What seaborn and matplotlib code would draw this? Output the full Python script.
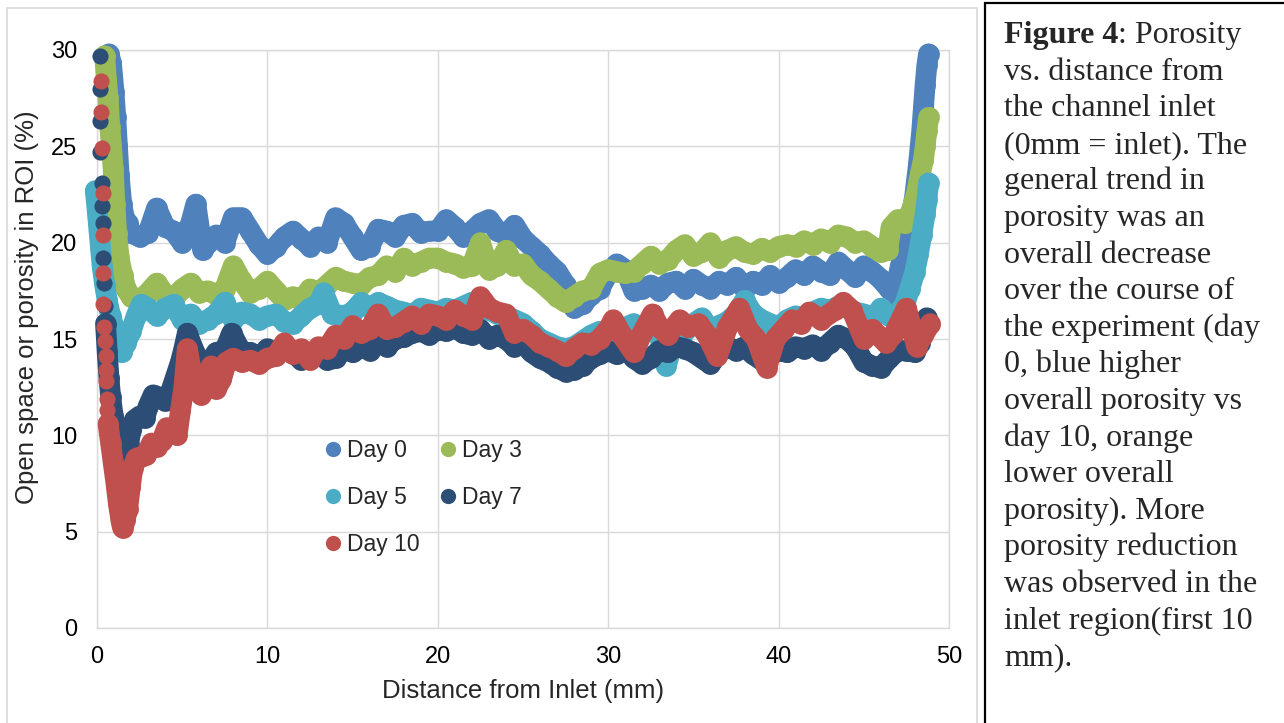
import matplotlib
matplotlib.use("Agg")
import matplotlib.pyplot as plt
from matplotlib.lines import Line2D
from matplotlib.patches import Rectangle
import seaborn as sns
import pandas as pd

# ---- data: (distance mm, porosity %) ----
day0_pts = [(0.7, 29.8), (0.85, 29.3), (1.0, 27.8), (1.1, 26.5), (1.2, 25.0), (1.3, 23.5), (1.45, 22.0),
            (1.6, 21.3), (1.8, 21.0), (2.0, 20.5), (2.5, 20.3), (3.0, 20.5), (3.5, 21.8), (4.0, 20.8),
            (4.5, 20.6), (5.0, 20.0), (5.5, 21.0), (5.8, 22.0), (6.2, 19.6), (6.5, 20.0), (7.0, 20.4),
            (7.5, 20.0), (8.0, 21.3), (8.5, 21.3), (9.0, 20.6), (9.5, 19.9), (10.0, 19.4), (10.5, 19.8),
            (11.0, 20.3), (11.5, 20.6), (12.0, 20.2), (12.5, 19.8), (13.0, 20.3), (13.5, 20.0), (14.0, 21.3),
            (14.5, 21.0), (15.0, 20.3), (15.5, 19.6), (16.0, 19.8), (16.5, 20.7), (17.0, 20.6), (17.5, 20.3),
            (18.0, 20.9), (18.5, 21.0), (19.0, 20.5), (19.5, 20.6), (20.0, 20.6), (20.5, 21.2), (21.0, 20.8),
            (21.5, 20.3), (22.0, 20.6), (22.5, 21.0), (23.0, 21.2), (23.5, 20.6), (24.0, 20.4), (24.5, 20.9),
            (25.0, 20.2), (25.5, 19.8), (26.0, 19.4), (26.5, 18.9), (27.0, 18.5), (27.5, 17.8), (28.0, 16.6),
            (28.5, 16.8), (29.0, 17.3), (29.5, 17.6), (30.0, 18.4), (30.5, 18.9), (31.0, 18.6), (31.5, 17.5),
            (32.0, 17.6), (32.5, 17.8), (33.0, 17.5), (33.5, 17.9), (34.0, 18.0), (34.5, 17.6), (35.0, 18.1),
            (35.5, 17.8), (36.0, 17.6), (36.5, 18.0), (37.0, 17.8), (37.5, 18.2), (38.0, 17.6), (38.5, 18.0),
            (39.0, 17.8), (39.5, 18.3), (40.0, 17.9), (40.5, 18.2), (41.0, 18.6), (41.5, 18.3), (42.0, 18.8),
            (42.5, 18.5), (43.0, 18.3), (43.5, 19.0), (44.0, 18.6), (44.5, 18.2), (45.0, 18.8), (45.5, 18.5),
            (46.0, 18.1), (46.5, 17.6), (46.8, 17.3), (47.1, 18.6), (47.4, 19.8), (47.7, 20.8), (48.0, 22.5),
            (48.2, 24.0), (48.4, 25.8), (48.5, 27.0), (48.6, 28.2), (48.7, 29.2), (48.8, 29.8)]

day3_pts = [(0.45, 29.7), (0.55, 28.5), (0.65, 27.5), (0.75, 26.0), (0.85, 25.0), (0.95, 23.8), (1.05, 22.0),
            (1.15, 20.5), (1.3, 19.2), (1.5, 18.3), (1.7, 17.6), (2.0, 17.2), (2.5, 17.0), (3.0, 17.4),
            (3.5, 17.9), (4.0, 17.3), (4.5, 17.1), (5.0, 17.6), (5.5, 17.9), (6.0, 17.4), (6.5, 17.5),
            (7.0, 17.3), (7.5, 17.6), (8.0, 18.8), (8.5, 18.0), (9.0, 17.4), (9.5, 17.6), (10.0, 18.0),
            (10.5, 17.5), (11.0, 17.0), (11.5, 17.2), (12.0, 17.0), (12.5, 17.6), (13.0, 17.4), (13.5, 17.8),
            (14.0, 18.2), (14.5, 18.0), (15.0, 17.9), (15.5, 17.8), (16.0, 18.2), (16.5, 18.3), (17.0, 18.8),
            (17.5, 18.5), (18.0, 19.2), (18.5, 18.8), (19.0, 19.0), (19.5, 19.2), (20.0, 19.2), (20.5, 19.0),
            (21.0, 18.9), (21.5, 18.7), (22.0, 18.8), (22.5, 20.0), (23.0, 18.6), (23.5, 18.8), (24.0, 19.6),
            (24.5, 18.8), (25.0, 18.9), (25.5, 18.3), (26.0, 18.0), (26.5, 17.6), (27.0, 17.2), (27.5, 16.9),
            (28.0, 17.2), (28.5, 17.5), (29.0, 17.6), (29.5, 18.4), (30.0, 18.6), (30.5, 18.5), (31.0, 18.4),
            (31.5, 18.5), (32.0, 18.9), (32.5, 19.3), (33.0, 18.9), (33.5, 19.1), (34.0, 19.6), (34.5, 19.9),
            (35.0, 19.3), (35.5, 19.5), (36.0, 20.0), (36.5, 19.2), (37.0, 19.6), (37.5, 19.8), (38.0, 19.5),
            (38.5, 19.4), (39.0, 19.7), (39.5, 19.5), (40.0, 19.8), (40.5, 19.9), (41.0, 19.8), (41.5, 20.1),
            (42.0, 19.9), (42.5, 20.2), (43.0, 20.0), (43.5, 20.4), (44.0, 20.3), (44.5, 20.0), (45.0, 20.1),
            (45.5, 19.8), (46.0, 19.5), (46.4, 19.6), (46.6, 20.8), (47.0, 21.2), (47.4, 21.0), (47.8, 21.7),
            (48.1, 22.6), (48.3, 23.5), (48.5, 24.3), (48.6, 25.0), (48.7, 25.8), (48.8, 26.5)]

day5_pts = [(-0.1, 22.7), (0.0, 21.8), (0.1, 20.8), (0.2, 19.8), (0.3, 18.8), (0.45, 17.8), (0.6, 17.0),
            (0.8, 16.2), (1.0, 15.6), (1.2, 15.0), (1.45, 14.3), (1.7, 14.8), (2.0, 15.4), (2.3, 16.2),
            (2.6, 16.8), (3.0, 16.6), (3.5, 16.2), (4.0, 16.6), (4.5, 16.8), (5.0, 16.0), (5.5, 16.3),
            (6.0, 15.8), (6.5, 16.0), (7.0, 16.3), (7.5, 16.9), (8.0, 16.0), (8.5, 16.4), (9.0, 16.3),
            (9.5, 16.0), (10.0, 16.2), (10.5, 16.3), (11.0, 15.9), (11.5, 15.8), (12.0, 16.2), (12.5, 16.6),
            (13.0, 16.8), (13.3, 17.4), (13.8, 16.3), (14.5, 16.2), (15.0, 16.4), (15.5, 16.9), (16.0, 16.6),
            (16.5, 16.9), (17.0, 16.7), (17.5, 16.5), (18.0, 16.4), (18.5, 16.2), (19.0, 16.6), (19.5, 16.5),
            (20.0, 16.4), (20.5, 16.6), (21.0, 16.5), (21.5, 16.7), (22.0, 16.9), (22.5, 16.6), (23.0, 16.5),
            (23.5, 16.3), (24.0, 16.2), (24.5, 16.0), (25.0, 15.8), (25.5, 15.4), (26.0, 15.0), (26.5, 14.8),
            (27.0, 14.6), (27.5, 14.5), (28.0, 14.6), (28.5, 14.9), (29.0, 15.2), (29.5, 15.4), (30.0, 15.2),
            (30.5, 15.5), (31.0, 15.6), (31.5, 15.8), (32.0, 15.5), (32.5, 15.7), (33.0, 15.2), (33.4, 13.6),
            (33.8, 14.8), (34.5, 15.4), (35.0, 15.8), (35.5, 16.1), (36.0, 15.4), (36.5, 15.7), (37.0, 15.9),
            (37.5, 16.3), (38.0, 17.0), (38.5, 16.3), (39.0, 16.0), (39.5, 15.8), (40.0, 15.6), (40.5, 16.0),
            (41.0, 16.2), (41.5, 16.1), (42.0, 16.4), (42.5, 16.6), (43.0, 16.5), (43.5, 16.7), (44.0, 16.6),
            (44.5, 16.4), (45.0, 16.3), (45.5, 16.0), (46.0, 16.6), (46.5, 16.2), (47.0, 16.3), (47.4, 16.8),
            (47.7, 17.6), (48.0, 18.5), (48.2, 19.4), (48.4, 20.4), (48.6, 21.5), (48.7, 22.2), (48.8, 23.1)]

# separate marker dots where the inlet curve drops almost vertically
day7_head = [(0.15, 29.7), (0.15, 28.0), (0.2, 26.3), (0.2, 24.7), (0.3, 23.1), (0.3, 21.9),
             (0.35, 21.0), (0.35, 19.2), (0.4, 17.9), (0.45, 16.7)]
day7_pts = [(0.5, 15.8), (0.6, 14.3), (0.7, 13.0), (0.8, 12.0), (0.95, 11.0), (1.1, 10.0), (1.25, 9.0),
            (1.4, 8.0), (1.55, 7.2), (1.7, 8.5), (1.85, 9.5), (2.0, 10.3), (2.2, 10.8), (2.5, 11.0),
            (2.8, 10.9), (3.0, 11.5), (3.3, 12.1), (3.6, 12.0), (4.0, 11.8), (4.3, 12.2), (4.6, 13.0),
            (4.9, 13.8), (5.1, 14.5), (5.3, 15.3), (5.6, 14.6), (6.0, 13.8), (6.5, 13.6), (7.0, 14.3),
            (7.5, 14.4), (7.9, 15.3), (8.3, 14.6), (8.7, 14.2), (9.0, 14.3), (9.5, 14.0), (10.0, 14.5),
            (10.5, 14.2), (11.0, 14.6), (11.5, 14.3), (12.0, 13.9), (12.5, 14.2), (13.0, 14.5), (13.5, 13.9),
            (14.0, 14.0), (14.5, 14.5), (15.0, 14.3), (15.5, 14.6), (16.0, 14.4), (16.5, 14.8), (17.0, 14.6),
            (17.5, 15.0), (18.0, 15.1), (18.5, 15.3), (19.0, 15.4), (19.5, 15.2), (20.0, 15.5), (20.5, 15.4),
            (21.0, 15.6), (21.5, 15.3), (22.0, 15.2), (22.5, 15.5), (23.0, 15.0), (23.5, 15.2), (24.0, 15.0),
            (24.5, 14.6), (25.0, 14.8), (25.5, 14.3), (26.0, 14.0), (26.5, 13.8), (27.0, 13.5), (27.5, 13.3),
            (28.0, 13.4), (28.5, 13.6), (29.0, 14.0), (29.5, 14.2), (30.0, 14.4), (30.5, 14.2), (31.0, 14.6),
            (31.5, 14.0), (32.0, 13.7), (32.5, 14.0), (33.0, 14.4), (33.5, 14.3), (34.0, 14.6), (34.5, 14.5),
            (35.0, 14.3), (35.5, 14.0), (36.0, 13.7), (36.5, 14.3), (37.0, 14.6), (37.5, 14.4), (38.0, 14.6),
            (38.5, 14.2), (39.0, 13.9), (39.5, 14.2), (40.0, 14.4), (40.5, 14.3), (41.0, 14.6), (41.5, 14.5),
            (42.0, 14.7), (42.5, 14.4), (43.0, 14.8), (43.5, 15.2), (44.0, 15.0), (44.5, 14.6), (45.0, 13.8),
            (45.5, 13.6), (46.0, 13.5), (46.5, 14.0), (47.0, 14.4), (47.5, 14.4), (48.0, 14.3), (48.3, 14.8),
            (48.5, 15.4), (48.7, 16.1)]

day10_head = [(0.25, 28.4), (0.25, 26.8), (0.3, 24.9), (0.35, 22.6), (0.35, 20.4), (0.35, 18.4),
              (0.35, 16.8), (0.4, 15.6), (0.45, 14.9), (0.5, 14.1), (0.5, 13.4), (0.55, 12.8),
              (0.6, 11.9), (0.6, 11.3)]
day10_pts = [(0.65, 10.6), (0.8, 9.6), (0.95, 8.6), (1.1, 7.6), (1.25, 6.5), (1.4, 5.6), (1.5, 5.2),
             (1.65, 5.6), (1.8, 6.2), (1.95, 7.3), (2.1, 8.3), (2.3, 8.8), (2.6, 8.9), (2.9, 9.0),
             (3.2, 9.6), (3.5, 9.4), (3.8, 9.7), (4.1, 10.4), (4.4, 10.2), (4.7, 10.0), (4.9, 11.3),
             (5.1, 12.5), (5.3, 14.5), (5.5, 13.5), (5.8, 12.8), (6.1, 12.1), (6.4, 12.5), (6.7, 13.6),
             (7.0, 12.4), (7.3, 12.9), (7.6, 13.8), (8.0, 14.0), (8.5, 13.8), (9.0, 13.9), (9.5, 13.7),
             (10.0, 14.0), (10.5, 14.1), (11.0, 14.8), (11.5, 14.2), (12.0, 14.5), (12.5, 13.9), (13.0, 14.6),
             (13.5, 14.5), (14.0, 15.2), (14.5, 15.0), (15.0, 15.7), (15.5, 15.3), (16.0, 15.5), (16.5, 16.3),
             (17.0, 15.5), (17.5, 15.6), (18.0, 15.9), (18.5, 16.2), (19.0, 15.8), (19.5, 16.3), (20.0, 16.2),
             (20.5, 16.0), (21.0, 16.5), (21.5, 16.2), (22.0, 16.0), (22.5, 17.2), (23.0, 16.6), (23.5, 16.4),
             (24.0, 16.3), (24.5, 15.3), (25.0, 15.5), (25.5, 15.2), (26.0, 14.8), (26.5, 14.6), (27.0, 14.4),
             (27.5, 14.1), (28.0, 14.5), (28.5, 14.8), (29.0, 14.7), (29.5, 15.0), (30.0, 15.5), (30.3, 16.0),
             (30.8, 15.2), (31.5, 14.3), (32.0, 15.3), (32.6, 16.3), (33.0, 15.6), (33.5, 15.2), (34.2, 16.0),
             (34.7, 15.6), (35.3, 15.8), (35.8, 15.2), (36.4, 14.1), (37.0, 15.6), (37.7, 16.6), (38.2, 15.5),
             (38.7, 15.0), (39.3, 13.5), (39.8, 15.0), (40.3, 15.5), (40.8, 16.0), (41.3, 15.8), (41.8, 16.4),
             (42.5, 16.0), (43.3, 16.5), (43.8, 16.9), (44.3, 16.5), (45.0, 15.0), (45.5, 15.5), (46.3, 14.8),
             (46.8, 15.3), (47.5, 16.6), (48.1, 14.6), (48.5, 15.2), (48.9, 15.8)]

labels = ["Day 0", "Day 3", "Day 5", "Day 7", "Day 10"]
colors = ["#4F81BD", "#9BBB59", "#4BACC6", "#2C4D75", "#C0504D"]
series = [day0_pts, day3_pts, day5_pts, day7_pts, day10_pts]
heads = [[], [], [], day7_head, day10_head]

caption_lines = ["vs. distance from", "the channel inlet", "(0mm = inlet). The",
                 "general trend in", "porosity was an", "overall decrease",
                 "over the course of", "the experiment (day", "0, blue higher",
                 "overall porosity vs", "day 10, orange", "lower overall",
                 "porosity). More", "porosity reduction", "was observed in the",
                 "inlet region(first 10", "mm)."]

# ---- figure ----
sns.set_style("white")
plt.rcParams["font.family"] = ["Liberation Sans", "DejaVu Sans"]

W, H = 1284, 723
fig = plt.figure(figsize=(W / 100, H / 100), dpi=100)
ax = fig.add_axes([97 / W, 1 - 628 / H, (949 - 97) / W, (628 - 50) / H])

for i, (pts, head) in enumerate(zip(series, heads)):
    df = pd.DataFrame(pts, columns=["dist", "por"])
    sns.lineplot(data=df, x="dist", y="por", ax=ax, color=colors[i], sort=False, estimator=None,
                 linewidth=15, marker="o", markersize=15, markeredgewidth=0,
                 solid_capstyle="round", solid_joinstyle="round", clip_on=False, zorder=3 + i)
    if head:
        hd = pd.DataFrame(head, columns=["dist", "por"])
        sns.scatterplot(data=hd, x="dist", y="por", ax=ax, color=colors[i], s=135,
                        linewidth=0, clip_on=False, zorder=3 + i)

ax.set_xlim(0, 50)
ax.set_ylim(0, 30)
ax.set_xticks(range(0, 51, 10))
ax.set_yticks(range(0, 31, 5))
ax.grid(True, color="#D9D9D9", linewidth=1.0)
ax.set_axisbelow(True)
for sp in ax.spines.values():
    sp.set_color("#D9D9D9")
    sp.set_linewidth(1.0)
ax.tick_params(axis="both", length=0, labelsize=17, colors="black")
ax.tick_params(axis="x", pad=13)
ax.tick_params(axis="y", pad=14)

ax.set_xlabel("Distance from Inlet (mm)", fontsize=18.5)
ax.set_ylabel("Open space or porosity in ROI (%)", fontsize=18.5)
ax.xaxis.label.set_verticalalignment("center")
ax.xaxis.set_label_coords(0.5, (628 - 691) / 578)
ax.yaxis.label.set_verticalalignment("center")
ax.yaxis.set_label_coords((27 - 97) / 852, (628 - 307) / 578)

handles = [Line2D([], [], marker="o", ls="none", color=c, markersize=11, markeredgewidth=0) for c in colors]
order = [0, 2, 4, 1, 3]
ax.legend([handles[k] for k in order], [labels[k] for k in order], ncol=2, frameon=False,
          loc="upper left", bbox_to_anchor=(325 / W, 1 - 439 / H), bbox_transform=fig.transFigure,
          fontsize=16.5, handlelength=0.7, handletextpad=0.25, columnspacing=0.9,
          labelspacing=1.05, borderpad=0, borderaxespad=0)

# chart border and caption box
fig.patches.append(Rectangle((7 / W, -0.02), (977 - 7) / W, 1 - 8 / H + 0.02, transform=fig.transFigure,
                             fill=False, edgecolor="#D9D9D9", linewidth=1.2))
fig.patches.append(Rectangle((985 / W, -0.02), 0.3, 1 - 3 / H + 0.02, transform=fig.transFigure,
                             fill=False, edgecolor="black", linewidth=1.6))

serif = ["Liberation Serif", "DejaVu Serif"]
tx = 1004 / W
base0 = 43
step = 36.6
t1 = fig.text(tx, 1 - base0 / H, "Figure 4", family=serif, fontsize=23, fontweight="bold", va="baseline")
renderer = fig.canvas.get_renderer()
bb = t1.get_window_extent(renderer)
fig.text(bb.x1 / W, 1 - base0 / H, ": Porosity", family=serif, fontsize=23, va="baseline")
for k, line in enumerate(caption_lines):
    fig.text(tx, 1 - (base0 + step * (k + 1)) / H, line, family=serif, fontsize=23, va="baseline")

fig.savefig("out.png", dpi=100)
